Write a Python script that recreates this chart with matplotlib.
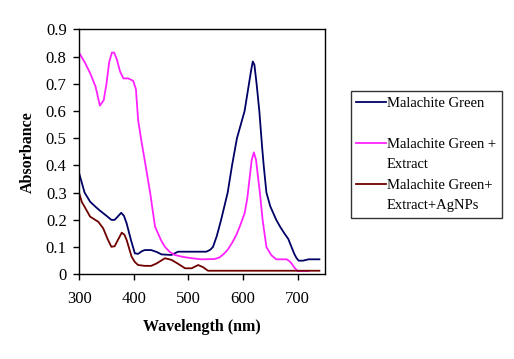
import matplotlib
matplotlib.use('Agg')
import matplotlib.pyplot as plt
from matplotlib.lines import Line2D

plt.rcParams['font.family'] = ['Liberation Serif', 'DejaVu Serif']

# spectra (wavelength in nm, absorbance)
wl_mg = [300, 310, 320, 330, 338, 350, 359, 365, 372, 377, 382, 387, 395, 402, 408, 415,
         420, 432, 442, 451, 469, 481, 500, 520, 533, 540, 545, 552, 560, 566, 572, 580,
         589, 596, 603, 611, 615, 618, 621, 625, 630, 635, 638, 643, 650, 661, 668, 676,
         683, 689, 694, 698, 702, 710, 720, 740]
abs_mg = [0.371, 0.30, 0.267, 0.248, 0.234, 0.215, 0.200, 0.200, 0.215, 0.226, 0.215, 0.187,
          0.125, 0.077, 0.075, 0.085, 0.089, 0.089, 0.082, 0.073, 0.071, 0.083, 0.083,
          0.083, 0.083, 0.09, 0.10, 0.14, 0.20, 0.25, 0.30, 0.40, 0.50, 0.55, 0.60, 0.70,
          0.75, 0.782, 0.77, 0.70, 0.60, 0.47, 0.40, 0.30, 0.25, 0.20, 0.175, 0.15, 0.13,
          0.10, 0.075, 0.06, 0.05, 0.05, 0.055, 0.055]

wl_ext = [300, 310, 320, 330, 338, 345, 350, 355, 360, 364, 369, 375, 381, 390, 399, 404,
          408, 414, 420, 430, 439, 450, 457, 466, 475, 490, 506, 524, 548, 557, 565, 572,
          580, 588, 595, 603, 608, 612, 616, 620, 624, 628, 631, 636, 643, 652, 661, 670,
          680, 684, 689, 694, 700, 710, 720]
abs_ext = [0.814, 0.78, 0.74, 0.69, 0.62, 0.64, 0.70, 0.78, 0.815, 0.815, 0.79, 0.745,
           0.72, 0.72, 0.711, 0.68, 0.567, 0.49, 0.42, 0.30, 0.175, 0.125, 0.101, 0.082,
           0.071, 0.064, 0.059, 0.055, 0.056, 0.062, 0.075, 0.09, 0.115, 0.145, 0.18, 0.224,
           0.28, 0.35, 0.42, 0.448, 0.42, 0.35, 0.30, 0.20, 0.10, 0.07, 0.055, 0.055, 0.055,
           0.05, 0.04, 0.025, 0.012, 0.012, 0.012]

wl_ag = [300, 305, 310, 320, 335, 344, 352, 359, 365, 372, 378, 383, 387, 396, 402, 408,
         420, 432, 442, 450, 457, 469, 480, 494, 506, 512, 518, 527, 536, 560, 740]
abs_ag = [0.298, 0.265, 0.248, 0.212, 0.193, 0.169, 0.13, 0.101, 0.103, 0.13, 0.153, 0.145,
          0.126, 0.065, 0.045, 0.034, 0.031, 0.031, 0.04, 0.05, 0.059, 0.053, 0.04, 0.022,
          0.022, 0.028, 0.034, 0.026, 0.013, 0.013, 0.013]

fig = plt.figure(figsize=(5.14, 3.59), dpi=100)
ax = fig.add_axes([0.154, 0.236, 0.478, 0.682])

ax.plot(wl_mg, abs_mg, color='#000066', lw=1.3)
ax.plot(wl_ext, abs_ext, color='#ff22ff', lw=1.3)
ax.plot(wl_ag, abs_ag, color='#700000', lw=1.3)

ax.set_xlim(300, 750)
ax.set_ylim(0, 0.9)
ax.set_xticks([300, 400, 500, 600, 700])
ax.set_yticks([i / 10 for i in range(10)])
ax.set_yticklabels(['0'] + ['%.1f' % (i / 10) for i in range(1, 10)])
ax.tick_params(direction='out', length=4, width=1, labelsize=12, pad=5)
ax.tick_params(axis='x', pad=8)
for s in ax.spines.values():
    s.set_linewidth(1)

ax.set_xlabel('Wavelength (nm)', fontsize=11.5, fontweight='bold', labelpad=9)
ax.set_ylabel('Absorbance', fontsize=11.5, fontweight='bold', labelpad=7)

# legend with wrapped labels, continuation rows get blank handles
blank = Line2D([], [], color='none')
handles = [Line2D([], [], color='#000066', lw=1.3), blank,
           Line2D([], [], color='#ff22ff', lw=1.3), blank,
           Line2D([], [], color='#700000', lw=1.3), blank]
labels = ['Malachite Green', ' ', 'Malachite Green +', 'Extract',
          'Malachite Green+', 'Extract+AgNPs']
leg = fig.legend(handles, labels, loc='upper left', bbox_to_anchor=(0.682, 0.747),
                 fontsize=10.5, frameon=True, fancybox=False, edgecolor='black',
                 handlelength=2.0, handletextpad=0.1, labelspacing=0.5,
                 borderpad=0.4, borderaxespad=0)
leg.get_frame().set_linewidth(1)

fig.savefig('out.png', dpi=100)
